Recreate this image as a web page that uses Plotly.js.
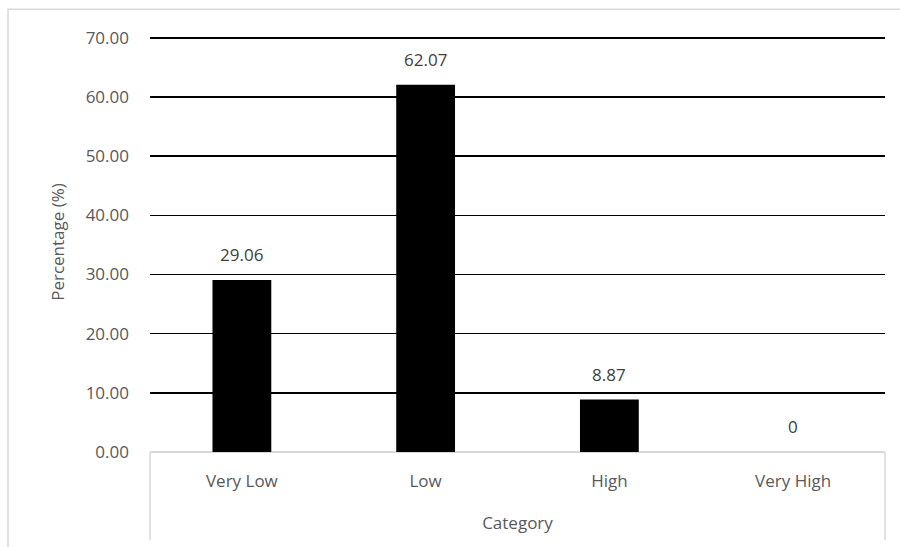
<!DOCTYPE html>
<html>
<head>
<meta charset="utf-8">
<script src="https://cdn.plot.ly/plotly-3.0.1.min.js"></script>
<style>html,body{margin:0;padding:0;background:#fff;}#chart{width:900px;height:547px;}</style>
</head>
<body>
<div id="chart"></div>
<script>
const categories = ["Very Low", "Low", "High", "Very High"];
const percentages = [29.06, 62.07, 8.87, 0];
const valueLabels = ["29.06", "62.07", "8.87", "0"];
const yTickValues = [0, 10, 20, 30, 40, 50, 60, 70];

const fontFamily = '"Open Sans", "Noto Sans", sans-serif';

const trace = {
  type: 'bar',
  x: categories,
  y: percentages,
  marker: {color: '#000000'},
  hoverinfo: 'x+y'
};

const annotations = categories.map((c, i) => ({
  x: c, y: percentages[i], xref: 'x', yref: 'y',
  text: valueLabels[i], showarrow: false,
  yanchor: 'bottom', yshift: 12,
  font: {family: fontFamily, size: 17, color: '#404040'}
}));

const layout = {
  width: 900, height: 547,
  margin: {l: 150, r: 15, t: 32, b: 95},
  paper_bgcolor: '#ffffff', plot_bgcolor: '#ffffff',
  showlegend: false,
  bargap: 0.68,
  font: {family: fontFamily, size: 17, color: '#595959'},
  xaxis: {
    type: 'category',
    showgrid: false, showline: false, zeroline: false,
    ticks: '', ticklabelstandoff: 17,
    tickfont: {family: fontFamily, size: 17, color: '#595959'},
    title: {text: 'Category', standoff: 26, font: {family: fontFamily, size: 17, color: '#595959'}},
    fixedrange: true
  },
  yaxis: {
    range: [0, 71],
    tickvals: yTickValues,
    tickformat: '.2f',
    showgrid: true, gridcolor: '#000000', gridwidth: 1.5,
    zeroline: true, zerolinecolor: '#d9d9d9', zerolinewidth: 1.5,
    showline: false, ticks: '', ticklabelstandoff: 20,
    tickfont: {family: fontFamily, size: 17, color: '#595959'},
    title: {text: 'Percentage (%)', standoff: 16, font: {family: fontFamily, size: 17, color: '#595959'}},
    fixedrange: true
  },
  annotations: annotations,
  shapes: [
    {type: 'line', xref: 'paper', yref: 'paper', x0: 0, x1: 0, y0: 0, y1: -0.21, line: {color: '#d9d9d9', width: 1.5}},
    {type: 'line', xref: 'paper', yref: 'paper', x0: 1, x1: 1, y0: 0, y1: -0.21, line: {color: '#d9d9d9', width: 1.5}},
    {type: 'rect', xref: 'paper', yref: 'paper', x0: -0.1932, x1: 1.05, y0: -0.3, y1: 1.054, line: {color: '#d9d9d9', width: 1.5}}
  ]
};

Plotly.newPlot('chart', [trace], layout, {displayModeBar: false, staticPlot: true});
</script>
</body>
</html>
